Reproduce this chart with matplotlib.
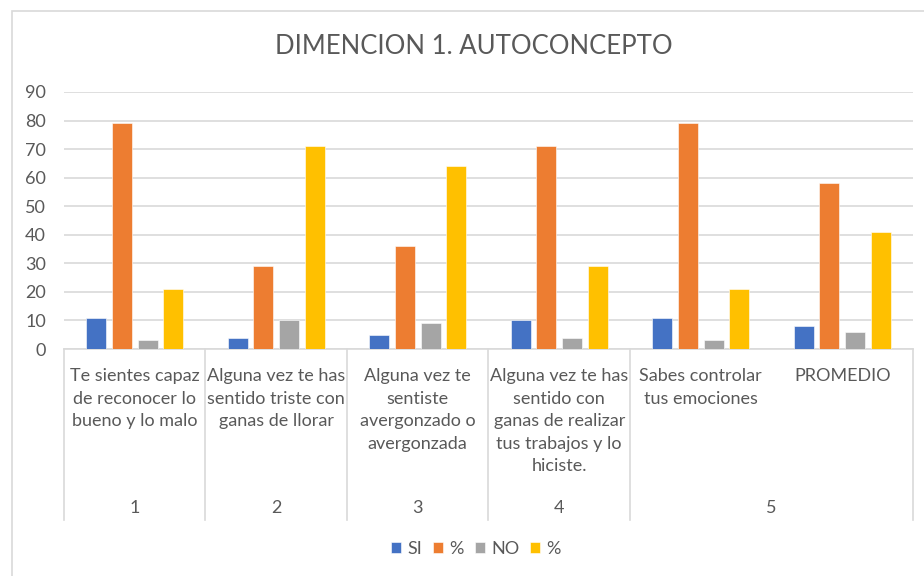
import matplotlib
matplotlib.use("Agg")
import matplotlib.pyplot as plt
import matplotlib.transforms as mtransforms
from matplotlib.patches import Rectangle
import numpy as np

plt.rcParams["font.family"] = ["Lato", "DejaVu Sans"]

TEXT_GREY = "#595959"
LINE_GREY = "#D9D9D9"

# data
questions = [
    "Te sientes capaz\nde reconocer lo\nbueno y lo malo",
    "Alguna vez te has\nsentido triste con\nganas de llorar",
    "Alguna vez te\nsentiste\navergonzado o\navergonzada",
    "Alguna vez te has\nsentido con\nganas de realizar\ntus trabajos y lo\nhiciste.",
    "Sabes controlar\ntus emociones",
    "PROMEDIO",
]
groups = ["1", "2", "3", "4", "5"]
group_spans = [(0, 1), (1, 2), (2, 3), (3, 4), (4, 6)]
series_names = ["SI", "%", "NO", "%"]
si = [11, 4, 5, 10, 11, 8]
si_pct = [79, 29, 36, 71, 79, 58]
no = [3, 10, 9, 4, 3, 6]
no_pct = [21, 71, 64, 29, 21, 41]
colors = ["#4472C4", "#ED7D31", "#A5A5A5", "#FFC000"]

W, H = 924, 576
fig = plt.figure(figsize=(W / 100, H / 100), dpi=100)
ax = fig.add_axes([64 / W, (H - 349) / H, (913 - 64) / W, (349 - 92) / H])

# chart frame (left and top edges visible)
fig.patches.append(Rectangle((12 / W, -0.1), 1.2, (H - 11) / H + 0.1,
                             transform=fig.transFigure, fill=False,
                             edgecolor=LINE_GREY, linewidth=1.2))

x = np.arange(len(questions)) + 0.5
bar_w = 0.141
step = 0.181
for k, vals in enumerate([si, si_pct, no, no_pct]):
    ax.bar(x + (k - 1.5) * step, vals, bar_w, color=colors[k],
           edgecolor="white", linewidth=0.4, label=series_names[k], zorder=3)

ax.set_xlim(0, len(questions))
ax.set_ylim(0, 90)
ax.set_yticks(range(0, 91, 10))
ax.yaxis.grid(True, color=LINE_GREY, linewidth=1.2, zorder=0)
ax.tick_params(axis="y", length=0, labelsize=13, labelcolor=TEXT_GREY, pad=13)
ax.set_xticks([])
for s in ["top", "right", "left"]:
    ax.spines[s].set_visible(False)
ax.spines["bottom"].set_color(LINE_GREY)
ax.spines["bottom"].set_linewidth(1.2)

# multi-level category axis
trans = mtransforms.blended_transform_factory(ax.transData, ax.transAxes)
px = 1 / (349 - 92)
bottom = -(520 - 349) * px
sep = [0] + [end for (_, end) in group_spans]
for s in sep:
    ax.plot([s, s], [0, bottom], transform=trans, color=LINE_GREY,
            linewidth=1.2, clip_on=False)
for xi, q in zip(x, questions):
    ax.text(xi, -(368 - 349) * px, q, transform=trans, ha="center", va="top",
            fontsize=13, color=TEXT_GREY, linespacing=1.5)
for g, (a, b) in zip(groups, group_spans):
    ax.text((a + b) / 2, -(508 - 349) * px, g, transform=trans, ha="center",
            va="center", fontsize=13, color=TEXT_GREY)

fig.text(474 / W, 1 - 47 / H, "DIMENCION 1. AUTOCONCEPTO", ha="center",
         va="center", fontsize=18.5, color=TEXT_GREY)

fig.legend(loc="center", bbox_to_anchor=(476 / W, 1 - 549 / H), ncol=4,
           frameon=False, handlelength=0.55, handleheight=0.55,
           handletextpad=0.35, columnspacing=0.6, fontsize=13,
           labelcolor=TEXT_GREY)

fig.savefig("out.png", dpi=100)
